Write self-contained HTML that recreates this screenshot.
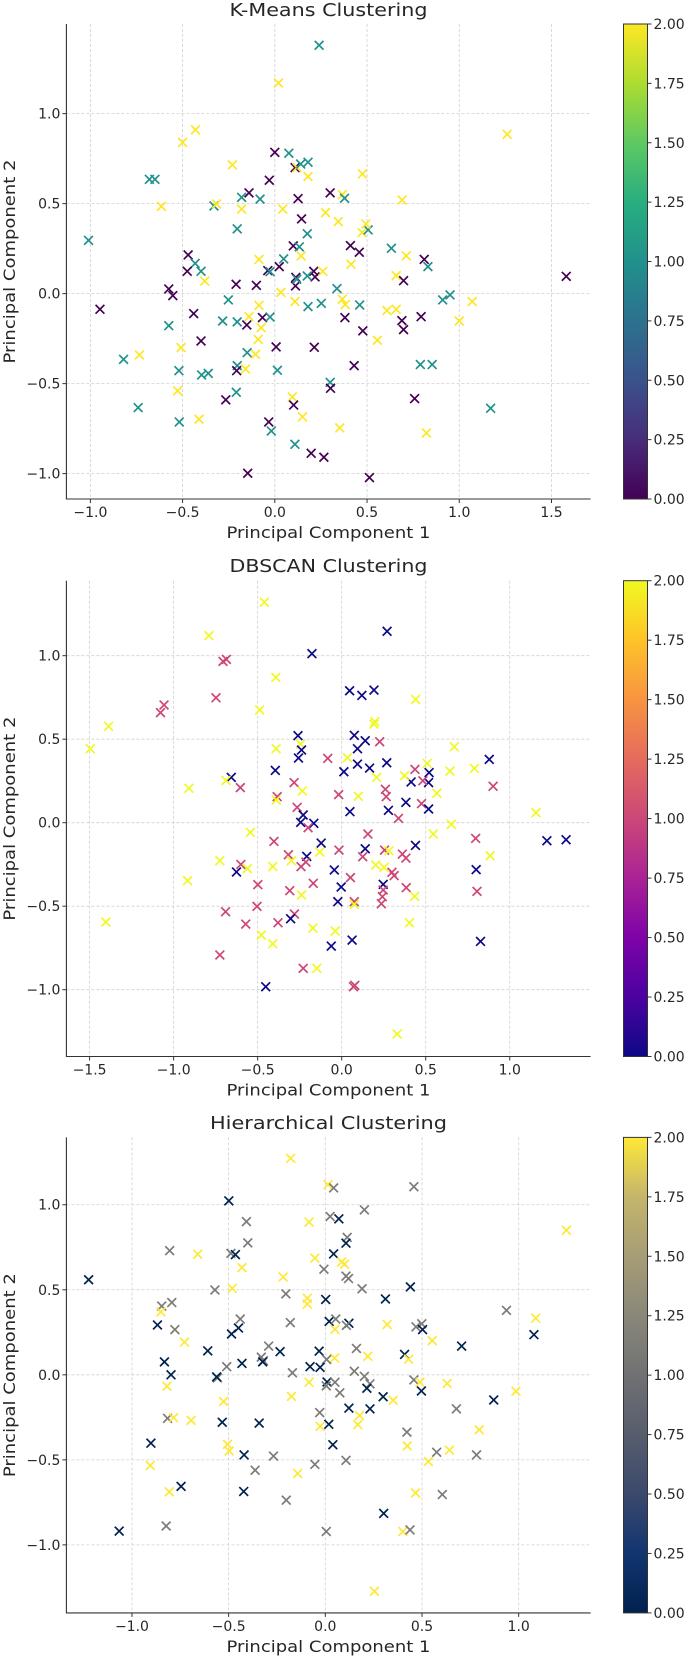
<!DOCTYPE html>
<html><head><meta charset="utf-8">
<style>
html,body{margin:0;padding:0;background:#fff;}
svg{display:block;font-family:"DejaVu Sans","Liberation Sans",sans-serif;}
</style></head>
<body>
<svg id="fig" width="685" height="1656" viewBox="0 0 685 1656" xmlns="http://www.w3.org/2000/svg">
<defs>
<linearGradient id="g-viridis" x1="0" y1="1" x2="0" y2="0">
<stop offset="0" stop-color="#440154"/><stop offset="0.125" stop-color="#472d7b"/><stop offset="0.25" stop-color="#3b528b"/><stop offset="0.375" stop-color="#2c728e"/><stop offset="0.5" stop-color="#21918c"/><stop offset="0.625" stop-color="#28ae80"/><stop offset="0.75" stop-color="#5ec962"/><stop offset="0.875" stop-color="#addc30"/><stop offset="1" stop-color="#fde725"/>
</linearGradient>
<linearGradient id="g-plasma" x1="0" y1="1" x2="0" y2="0">
<stop offset="0" stop-color="#0d0887"/><stop offset="0.125" stop-color="#4c02a1"/><stop offset="0.25" stop-color="#7e03a8"/><stop offset="0.375" stop-color="#a92395"/><stop offset="0.5" stop-color="#cc4778"/><stop offset="0.625" stop-color="#e56b5d"/><stop offset="0.75" stop-color="#f89441"/><stop offset="0.875" stop-color="#fdc328"/><stop offset="1" stop-color="#f0f921"/>
</linearGradient>
<linearGradient id="g-cividis" x1="0" y1="1" x2="0" y2="0">
<stop offset="0" stop-color="#00224e"/><stop offset="0.125" stop-color="#123570"/><stop offset="0.25" stop-color="#3b496c"/><stop offset="0.375" stop-color="#575d6d"/><stop offset="0.5" stop-color="#707173"/><stop offset="0.625" stop-color="#8a8779"/><stop offset="0.75" stop-color="#a69d75"/><stop offset="0.875" stop-color="#c4b56c"/><stop offset="1" stop-color="#fee838"/>
</linearGradient>
</defs>
</svg>
<script>
// ---------- K-Means data ----------
const kmX = [0.24,0.02,1.26,-0.43,-0.50,0.0,0.076,-0.23,0.11,0.12,0.18,0.14,0.18,0.475,-0.68,-0.65,-0.03,-0.14,-0.18,-0.08,0.126,0.30,0.366,0.378,0.69,-0.615,-0.33,-0.316,-0.18,0.043,0.275,0.344,0.145,-0.204,0.176,0.473,0.506,0.494,-1.01,0.10,0.133,0.41,0.458,0.632,0.713,-0.47,-0.086,0.048,0.143,-0.432,-0.40,-0.475,-0.38,-0.038,-0.026,0.024,0.211,0.218,0.26,0.176,0.413,0.81,0.83,0.658,0.698,1.58,0.114,0.112,0.119,-0.21,-0.10,0.033,0.109,-0.575,-0.553,-0.948,-0.252,0.18,0.252,0.366,0.382,0.46,0.337,0.91,0.95,1.07,0.608,0.658,-0.086,-0.44,-0.283,-0.204,-0.14,-0.067,-0.026,-0.152,-0.074,-0.575,0.38,0.793,0.689,0.698,1.0,0.477,0.556,-0.09,-0.40,0.007,0.214,-0.508,-0.15,-0.105,-0.734,-0.82,0.789,0.853,0.43,-0.204,-0.207,-0.159,-0.52,-0.397,-0.361,0.014,0.30,0.302,-0.527,-0.209,-0.266,0.095,0.758,0.102,-0.741,1.17,0.15,-0.411,-0.518,-0.033,-0.019,0.352,0.822,0.109,0.197,0.266,-0.147,0.513];
const kmY = [1.38,1.17,0.885,0.91,0.84,0.785,0.78,0.715,0.70,0.70,0.73,0.72,0.65,0.665,0.635,0.635,0.63,0.56,0.535,0.525,0.528,0.56,0.55,0.53,0.52,0.485,0.487,0.498,0.47,0.47,0.45,0.40,0.415,0.36,0.333,0.339,0.354,0.387,0.296,0.265,0.26,0.267,0.23,0.252,0.21,0.215,0.19,0.193,0.209,0.168,0.124,0.124,0.07,0.128,0.122,0.15,0.124,0.093,0.124,0.098,0.163,0.19,0.15,0.10,0.072,0.096,0.09,0.043,0.08,0.052,0.046,0.007,-0.044,0.026,-0.011,-0.087,-0.035,-0.072,-0.054,-0.031,-0.061,-0.063,0.028,-0.035,-0.007,-0.044,-0.094,-0.087,-0.065,-0.111,-0.152,-0.157,-0.128,-0.133,-0.13,-0.174,-0.189,-0.178,-0.133,-0.128,-0.15,-0.20,-0.152,-0.207,-0.259,-0.254,-0.263,-0.296,-0.298,-0.30,-0.328,-0.337,-0.34,-0.365,-0.394,-0.394,-0.40,-0.40,-0.428,-0.419,-0.428,-0.452,-0.443,-0.426,-0.493,-0.526,-0.54,-0.548,-0.59,-0.574,-0.583,-0.619,-0.633,-0.637,-0.685,-0.698,-0.713,-0.713,-0.763,-0.746,-0.774,-0.837,-0.887,-0.909,-0.998,-1.022];
const kmC = [1,2,2,2,2,0,1,2,0,2,1,1,2,2,1,1,0,0,1,1,0,0,2,1,2,2,1,2,2,2,2,2,0,1,1,2,1,2,1,0,1,0,0,1,2,0,2,1,2,1,1,0,2,0,1,0,0,0,2,1,2,0,1,2,0,0,0,0,1,0,0,2,2,0,0,0,1,1,1,2,2,1,1,1,1,2,2,2,2,0,1,1,2,0,1,0,2,1,0,0,0,0,2,0,2,2,0,0,0,2,1,2,2,1,1,1,0,1,0,2,1,1,1,1,1,0,2,1,0,2,0,0,1,1,2,2,1,0,1,2,2,1,0,0,0,0];
// ---------- DBSCAN data ----------
const dbX = [-0.46,-0.79,0.27,-0.177,-0.706,-0.686,-0.392,0.047,0.12,0.192,0.44,-0.748,-1.057,-1.078,-0.488,-1.387,0.197,0.192,-1.496,-0.26,0.075,0.14,0.226,-0.244,-0.239,-0.257,0.094,-0.39,-0.083,0.034,0.094,0.166,0.268,0.509,0.67,0.644,0.79,0.878,-0.395,0.013,0.436,0.52,0.517,0.413,0.483,0.374,0.208,-0.657,-0.688,-0.603,-0.909,-0.283,-0.234,-0.018,0.099,0.26,0.265,0.566,0.901,-0.384,-0.39,0.382,0.475,0.517,0.049,0.278,-0.265,-0.229,-0.244,-0.166,-0.2,0.338,1.156,0.652,0.545,-0.543,0.156,-0.403,-0.122,1.221,1.335,0.797,-0.016,0.14,0.255,0.281,0.439,-0.13,0.361,0.382,0.883,-0.317,-0.208,-0.299,-0.213,-0.242,0.125,-0.725,-0.6,-0.561,-0.626,-0.41,-0.044,0.203,0.252,0.299,0.312,0.8,0.052,-0.169,-0.917,-0.499,-0.003,0.247,0.247,0.242,0.236,0.384,-0.309,0.805,-0.239,0.434,-0.023,0.075,0.075,-0.504,-0.691,-0.281,-0.304,-0.571,-0.379,-1.403,0.403,-0.171,-0.039,-0.478,-0.41,0.062,0.826,-0.062,-0.725,-0.229,-0.148,-0.452,0.07,0.078,0.33];
const dbY = [1.32,1.12,1.146,1.012,0.966,0.978,0.87,0.79,0.762,0.794,0.738,0.748,0.705,0.659,0.675,0.577,0.605,0.59,0.443,0.521,0.523,0.491,0.485,0.471,0.435,0.387,0.443,0.443,0.385,0.389,0.351,0.327,0.359,0.355,0.455,0.309,0.325,0.379,0.313,0.305,0.319,0.30,0.24,0.244,0.251,0.281,0.271,0.271,0.253,0.21,0.206,0.24,0.19,0.168,0.158,0.2,0.156,0.176,0.218,0.156,0.136,0.122,0.114,0.082,0.066,0.074,0.092,0.046,0.002,-0.004,-0.03,0.026,0.06,-0.01,-0.068,-0.058,-0.068,-0.112,-0.122,-0.108,-0.102,-0.094,-0.164,-0.156,-0.164,-0.168,-0.136,-0.176,-0.188,-0.212,-0.198,-0.192,-0.202,-0.228,-0.236,-0.263,-0.204,-0.228,-0.25,-0.275,-0.295,-0.263,-0.283,-0.253,-0.267,-0.297,-0.317,-0.281,-0.329,-0.363,-0.347,-0.371,-0.385,-0.369,-0.403,-0.443,-0.485,-0.389,-0.407,-0.411,-0.433,-0.441,-0.473,-0.473,-0.489,-0.501,-0.533,-0.547,-0.575,-0.607,-0.599,-0.595,-0.599,-0.631,-0.649,-0.673,-0.725,-0.703,-0.711,-0.739,-0.792,-0.872,-0.872,-0.982,-0.982,-0.974,-1.265];
const dbC = [2,2,0,0,1,1,2,0,0,0,2,1,1,1,2,2,2,2,2,0,0,0,1,2,0,0,0,2,1,2,0,0,0,2,2,2,2,0,0,0,1,0,0,0,1,2,2,0,2,1,2,1,2,1,2,1,1,2,1,1,2,0,1,0,0,0,1,0,0,0,1,1,2,2,2,2,1,1,0,0,0,1,1,0,1,2,0,2,1,1,2,1,0,2,1,1,1,2,1,2,0,2,0,2,2,1,1,0,1,1,2,1,0,0,1,1,1,1,1,1,2,2,0,1,2,1,1,1,0,1,1,2,2,2,2,2,2,0,0,0,1,1,2,0,1,1,2];
// ---------- Hierarchical data ----------
const hcX = [-0.179,0.014,0.043,0.458,-0.499,0.202,-0.408,-0.084,0.025,0.07,1.247,0.113,0.107,-0.401,-0.805,-0.66,-0.488,-0.465,0.043,-0.054,0.084,0.1,-0.007,-0.431,0.107,0.12,-1.224,-0.218,0.19,-0.571,-0.481,0.44,-0.204,0.002,0.311,-0.093,-0.093,0.937,-0.846,-0.794,-0.85,1.088,-0.44,-0.449,-0.485,-0.181,0.02,0.054,0.05,0.122,0.109,0.32,0.469,0.499,0.503,-0.868,-0.778,1.079,0.553,-0.728,-0.608,-0.293,-0.234,0.705,0.161,-0.032,-0.331,-0.32,-0.324,-0.431,0.22,0.41,0.431,0.048,0.007,-0.079,-0.027,-0.832,-0.798,-0.51,-0.558,-0.562,-0.17,0.15,0.202,0.231,0.009,0.05,0.005,-0.084,0.458,0.49,0.497,0.215,0.63,-0.819,0.075,0.986,0.871,-0.175,0.299,0.351,-0.526,0.122,0.231,0.678,-0.029,0.177,0.168,-0.816,-0.785,-0.694,-0.533,-0.342,0.018,-0.027,0.796,0.422,-0.902,0.039,-0.506,-0.497,0.424,0.642,0.576,-0.42,-0.268,0.782,-0.054,0.107,0.533,-0.905,-0.363,-0.143,-0.746,-0.422,-0.807,0.467,0.605,-0.202,0.302,-0.823,-1.066,0.005,0.401,0.438,0.254];
const hcY = [1.273,1.118,1.099,1.106,1.023,0.97,0.901,0.898,0.931,0.917,0.85,0.808,0.774,0.776,0.73,0.709,0.714,0.707,0.711,0.686,0.663,0.651,0.621,0.63,0.58,0.566,0.559,0.575,0.506,0.499,0.508,0.517,0.476,0.443,0.446,0.45,0.416,0.379,0.404,0.425,0.37,0.333,0.328,0.275,0.24,0.307,0.314,0.328,0.268,0.303,0.291,0.296,0.282,0.3,0.266,0.293,0.266,0.236,0.201,0.192,0.141,0.169,0.136,0.169,0.155,0.139,0.104,0.083,0.076,0.067,0.109,0.12,0.092,0.099,0.09,0.048,0.044,0.076,0,0.048,-0.018,-0.012,0.012,0.021,-0.009,-0.053,-0.042,-0.044,-0.065,-0.044,-0.03,-0.044,-0.095,-0.079,-0.051,-0.067,-0.106,-0.097,-0.148,-0.127,-0.129,-0.15,-0.157,-0.196,-0.2,-0.2,-0.222,-0.24,-0.293,-0.256,-0.252,-0.268,-0.279,-0.284,-0.291,-0.303,-0.323,-0.337,-0.402,-0.411,-0.409,-0.448,-0.418,-0.443,-0.455,-0.471,-0.478,-0.471,-0.527,-0.503,-0.51,-0.533,-0.561,-0.58,-0.656,-0.686,-0.688,-0.695,-0.704,-0.737,-0.815,-0.889,-0.919,-0.921,-0.921,-0.912,-1.273];
const hcC = [2,2,1,1,0,1,1,2,1,0,2,1,0,1,1,2,1,0,0,2,2,2,1,2,1,1,0,2,1,1,2,0,1,0,0,2,2,1,1,1,2,2,1,0,0,1,0,1,2,0,1,2,1,1,0,0,1,0,2,2,0,1,0,0,1,0,1,1,0,0,2,0,2,2,1,0,0,0,0,1,1,0,1,1,1,1,0,1,1,2,1,2,0,0,2,2,1,2,0,2,0,2,2,0,0,1,1,2,2,1,2,2,0,0,0,2,2,1,0,0,2,2,2,2,1,0,1,1,1,1,2,2,1,2,0,0,2,2,1,1,0,1,0,1,2,1,2];
// tick labels
const xTicks1 = [-1.0,-0.5,0.0,0.5,1.0,1.5];
const xTicks2 = [-1.5,-1.0,-0.5,0.0,0.5,1.0];
const xTicks3 = [-1.0,-0.5,0.0,0.5,1.0];
const yTicks = [-1.0,-0.5,0.0,0.5,1.0];
const cbTicks = [0,0.25,0.5,0.75,1.0,1.25,1.5,1.75,2.0];

const NS='http://www.w3.org/2000/svg';
const fig=document.getElementById('fig');
function mk(tag,attrs,parent){const e=document.createElementNS(NS,tag);for(const k in attrs)e.setAttribute(k,attrs[k]);(parent||fig).appendChild(e);return e;}
function fmt(v,d){return (v<0?'\u2212':'')+Math.abs(v).toFixed(d);}

const TXT='#262626';
function drawPlot(o){
  const g=mk('g',{});
  
  
  const L=66.4,R=590.6,T=o.top,B=o.bottom;
  const sx=v=>L+(v-o.xmin)/(o.xmax-o.xmin)*(R-L);
  const sy=v=>B-(v-o.ymin)/(o.ymax-o.ymin)*(B-T);
  // grid
  o.xt.forEach(v=>{const l=mk('line',{x1:sx(v),x2:sx(v),y1:T,y2:B,stroke:'#d0d0d0','stroke-width':0.8,'stroke-dasharray':'3,2'},g);
    });
  yTicks.forEach(v=>{const l=mk('line',{x1:L,x2:R,y1:sy(v),y2:sy(v),stroke:'#d0d0d0','stroke-width':0.8,'stroke-dasharray':'3,2'},g);
    });
  // points
  for(let i=0;i<o.x.length;i++){
    const cx=sx(o.x[i]),cy=sy(o.y[i]),r=4.4,col=o.cmap[o.c[i]];
    const p=mk('path',{d:`M${cx-r},${cy-r}L${cx+r},${cy+r}M${cx-r},${cy+r}L${cx+r},${cy-r}`,stroke:col,'stroke-width':1.7,fill:'none'},g);
    
    
  }
  // spines
  const sp=mk('path',{d:`M${L},${T}L${L},${B}L${R},${B}`,stroke:'#333','stroke-width':1.1,fill:'none'},g);
  
  // ticks
  o.xt.forEach(v=>{mk('line',{x1:sx(v),x2:sx(v),y1:B,y2:B+4,stroke:'#333','stroke-width':1},g);
    const t=mk('text',{x:sx(v),y:B+18,'font-size':14,fill:TXT,'text-anchor':'middle'},g);t.textContent=fmt(v,1);
    });
  yTicks.forEach(v=>{mk('line',{x1:L-4,x2:L,y1:sy(v),y2:sy(v),stroke:'#333','stroke-width':1},g);
    const t=mk('text',{x:L-6,y:sy(v)+5,'font-size':14,fill:TXT,'text-anchor':'end'},g);t.textContent=fmt(v,1);
    });
  // title & labels
  const ti=mk('text',{x:328.5,y:o.titleY,'font-size':18,fill:TXT,'text-anchor':'middle',textLength:o.titleW,lengthAdjust:'spacingAndGlyphs'},g);
  ti.textContent=o.title;
  const xl=mk('text',{x:328.5,y:B+39,'font-size':16,fill:TXT,'text-anchor':'middle',textLength:204,lengthAdjust:'spacingAndGlyphs'},g);
  xl.textContent='Principal Component 1';
  const yc=(T+B)/2;
  const yl=mk('text',{x:15,y:yc,'font-size':16,fill:TXT,'text-anchor':'middle',transform:`rotate(-90 15 ${yc})`,textLength:204,lengthAdjust:'spacingAndGlyphs'},g);
  yl.textContent='Principal Component 2';
  // colorbar
  const CL=623.5,CW=24;
  const cb=mk('rect',{x:CL,y:T,width:CW,height:B-T,fill:`url(#${o.grad})`,stroke:'#333','stroke-width':1},g);
  
  cbTicks.forEach(v=>{const yy=B-v/2*(B-T);
    mk('line',{x1:CL+CW,x2:CL+CW+4,y1:yy,y2:yy,stroke:'#333','stroke-width':1},g);
    const t=mk('text',{x:CL+CW+6,y:yy+5,'font-size':14,fill:TXT},g);t.textContent=v.toFixed(2);
    });
}
drawPlot({name:'kmeans',title:'K-Means Clustering',titleY:16,titleW:198,top:24,bottom:499,xmin:-1.130,xmax:1.712,ymin:-1.141,ymax:1.498,
  xt:xTicks1,x:kmX,y:kmY,c:kmC,cmap:['#440154','#21918c','#fde725'],grad:'g-viridis'});
drawPlot({name:'dbscan',title:'DBSCAN Clustering',titleY:572,titleW:198,top:580.7,bottom:1056.5,xmin:-1.638,xmax:1.481,ymin:-1.40,ymax:1.449,
  xt:xTicks2,x:dbX,y:dbY,c:dbC,cmap:['#0d0887','#cc4778','#f0f921'],grad:'g-plasma'});
drawPlot({name:'hierarchical',title:'Hierarchical Clustering',titleY:1129,titleW:237,top:1137.4,bottom:1612.9,xmin:-1.339,xmax:1.372,ymin:-1.40,ymax:1.396,
  xt:xTicks3,x:hcX,y:hcY,c:hcC,cmap:['#00224e','#7c7b78','#fee838'],grad:'g-cividis'});
</script>
</body></html>
